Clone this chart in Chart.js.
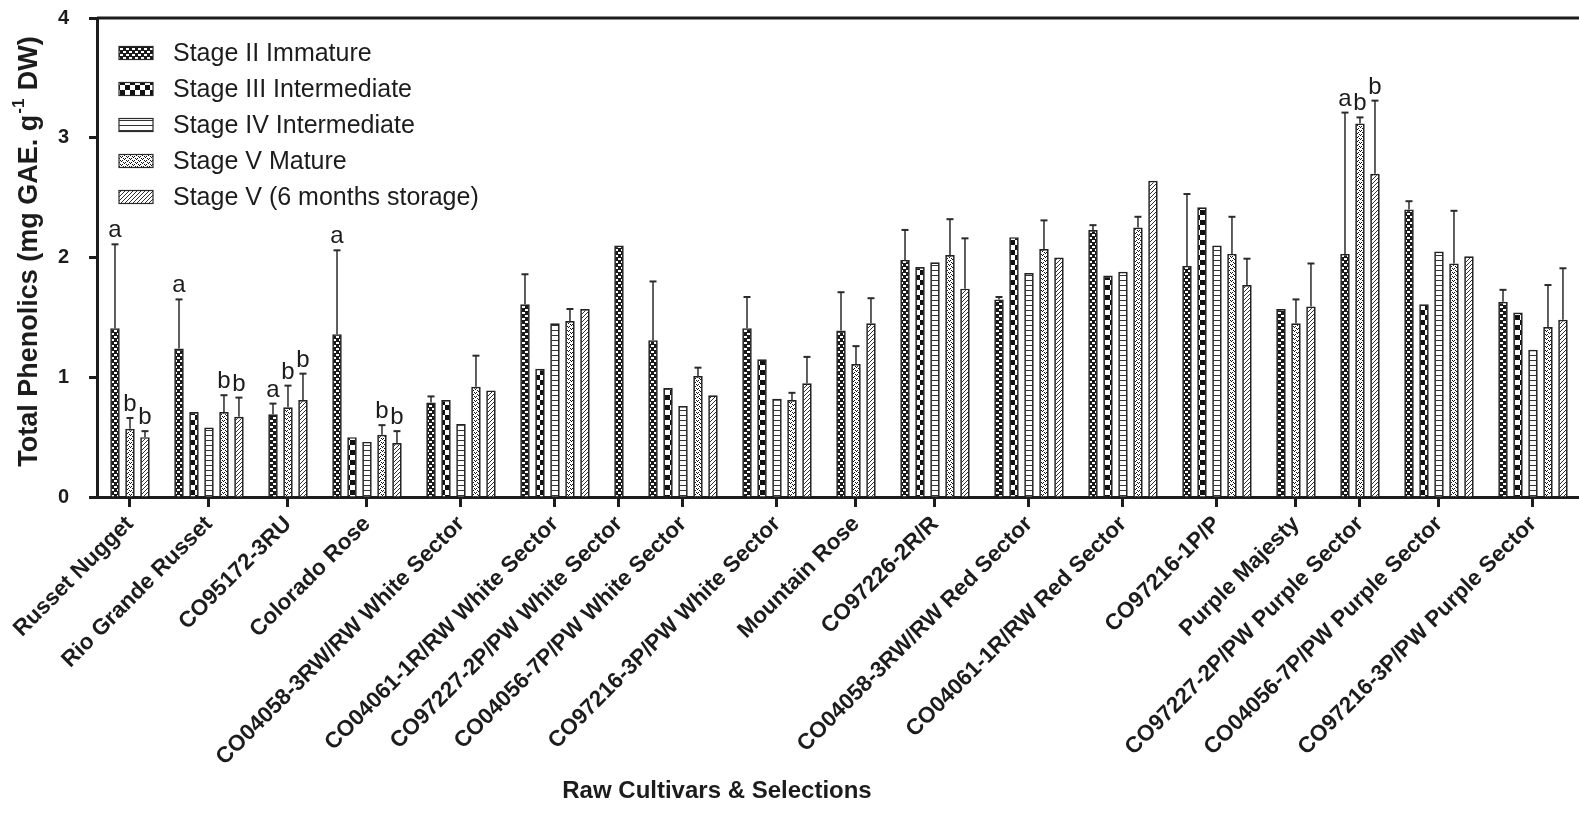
<!DOCTYPE html>
<html>
<head>
<meta charset="utf-8">
<script src="https://cdn.jsdelivr.net/npm/chart.js@4.4.1/dist/chart.umd.min.js"></script>
<style>
  html, body { margin: 0; padding: 0; background: #fff; }
  canvas { display: block; }
</style>
</head>
<body>
<canvas id="chart" width="1579" height="830"></canvas>
<script>
// ---- data -------------------------------------------------------------
const categories = [
  'Russet Nugget', 'Rio Grande Russet', 'CO95172-3RU', 'Colorado Rose',
  'CO04058-3RW/RW White Sector', 'CO04061-1R/RW White Sector',
  'CO97227-2P/PW White Sector', 'CO04056-7P/PW White Sector',
  'CO97216-3P/PW White Sector', 'Mountain Rose', 'CO97226-2R/R',
  'CO04058-3RW/RW Red Sector', 'CO04061-1R/RW Red Sector', 'CO97216-1P/P',
  'Purple Majesty', 'CO97227-2P/PW Purple Sector',
  'CO04056-7P/PW Purple Sector', 'CO97216-3P/PW Purple Sector'
];

const seriesNames = [
  'Stage II Immature', 'Stage III Intermediate', 'Stage IV Intermediate',
  'Stage V Mature', 'Stage V (6 months storage)'
];

// mean total phenolics, mg GAE/g DW (null = not measured)
const stageII  = [1.41, 1.24, 0.69, 1.36, 0.79, 1.61, 2.10, 1.31, 1.41, 1.39, 1.98, 1.65, 2.23, 1.93, 1.57, 2.03, 2.40, 1.63];
const stageIII = [null, 0.71, null, 0.50, 0.81, 1.07, null, 0.91, 1.15, null, 1.92, 2.17, 1.85, 2.42, null, null, 1.61, 1.54];
const stageIV  = [null, 0.58, null, 0.46, 0.61, 1.45, null, 0.76, 0.82, null, 1.96, 1.87, 1.88, 2.10, null, null, 2.05, 1.23];
const stageV   = [0.57, 0.71, 0.75, 0.52, 0.92, 1.47, null, 1.01, 0.81, 1.11, 2.02, 2.07, 2.25, 2.03, 1.45, 3.12, 1.95, 1.42];
const stageV6  = [0.50, 0.67, 0.81, 0.45, 0.89, 1.57, null, 0.85, 0.95, 1.45, 1.74, 2.00, 2.64, 1.77, 1.59, 2.70, 2.01, 1.48];

// upper error (SD) for each bar (null = no error bar)
const errII  = [0.70, 0.41, 0.09, 0.70, 0.05, 0.25, null, 0.49, 0.26, 0.32, 0.25, 0.02, 0.04, 0.60, null, 1.18, 0.07, 0.10];
const errIII = [null, null, null, null, null, null, null, null, null, null, null, null, null, null, null, null, null, null];
const errIV  = [null, null, null, null, null, null, null, null, null, null, null, null, null, null, null, null, null, null];
const errV   = [0.09, 0.14, 0.18, 0.08, 0.26, 0.10, null, 0.07, 0.06, 0.15, 0.30, 0.24, 0.09, 0.31, 0.20, 0.05, 0.44, 0.35];
const errV6  = [0.05, 0.16, 0.22, 0.10, null, null, null, null, 0.22, 0.21, 0.42, null, null, 0.22, 0.36, 0.61, null, 0.43];

// significance letters
const letII  = ['a', 'a', 'a', 'a', '', '', '', '', '', '', '', '', '', '', '', 'a', '', ''];
const letIII = ['', '', '', '', '', '', '', '', '', '', '', '', '', '', '', '', '', ''];
const letIV  = ['', '', '', '', '', '', '', '', '', '', '', '', '', '', '', '', '', ''];
const letV   = ['b', 'b', 'b', 'b', '', '', '', '', '', '', '', '', '', '', '', 'b', '', ''];
const letV6  = ['b', 'b', 'b', 'b', '', '', '', '', '', '', '', '', '', '', '', 'b', '', ''];

const yTicks = [0, 1, 2, 3, 4];

// ---- styling helpers --------------------------------------------------
const FONT = "'Liberation Sans', Arial, Helvetica, sans-serif";
const INK = '#1c1c1c';
const GROUP_GAP = 1.27;   // extra space between cultivar groups, in bar slots

const mainCanvas = document.getElementById('chart');
const mainCtx = mainCanvas.getContext('2d');

function makePattern(w, h, paint) {
  const c = document.createElement('canvas');
  c.width = w; c.height = h;
  const g = c.getContext('2d');
  g.fillStyle = '#fff';
  g.fillRect(0, 0, w, h);
  paint(g);
  return mainCtx.createPattern(c, 'repeat');
}

const patterns = [
  // fine checker (dark)
  makePattern(6, 6, g => {
    g.fillStyle = '#1a1a1a'; g.fillRect(0, 0, 6, 6);
    g.fillStyle = '#fff'; g.fillRect(0, 0, 3, 2); g.fillRect(3, 3, 3, 2);
  }),
  // coarse checker
  makePattern(10, 10, g => {
    g.fillStyle = '#111'; g.fillRect(0, 0, 5, 5); g.fillRect(5, 5, 5, 5);
  }),
  // horizontal lines
  makePattern(4, 5, g => {
    g.fillStyle = '#333'; g.fillRect(0, 0, 4, 1);
  }),
  // sparse "v" dots
  makePattern(6, 4, g => {
    g.fillStyle = '#111';
    g.fillRect(0, 0, 1, 1); g.fillRect(1, 1, 1, 1); g.fillRect(2, 0, 1, 1);
    g.fillRect(3, 2, 1, 1); g.fillRect(4, 3, 1, 1); g.fillRect(5, 2, 1, 1);
  }),
  // diagonal hatch
  makePattern(4, 4, g => {
    g.fillStyle = '#333';
    for (let i = 0; i < 4; i++) g.fillRect(i, 3 - i, 1, 1);
  })
];

// ---- bar layout: bars of each cultivar sit side by side, empty stages are skipped
const seriesValues = [stageII, stageIII, stageIV, stageV, stageV6];
const seriesErrors = [errII, errIII, errIV, errV, errV6];
const seriesLetters = [letII, letIII, letIV, letV, letV6];

const seriesPoints = seriesValues.map(() => []);
const groupCenters = [];
let slot = 0;
categories.forEach((cat, i) => {
  const start = slot;
  seriesValues.forEach((vals, k) => {
    if (vals[i] !== null) {
      seriesPoints[k].push({ x: slot, y: vals[i], err: seriesErrors[k][i], letter: seriesLetters[k][i] });
      slot += 1;
    }
  });
  groupCenters.push((start + slot - 1) / 2);
  slot += GROUP_GAP;
});
const lastSlot = slot - GROUP_GAP - 1;

const datasets = seriesNames.map((name, k) => ({
  label: name,
  data: seriesPoints[k],
  backgroundColor: patterns[k],
  borderColor: '#222',
  borderWidth: 1.7,
  grouped: false,
  maxBarThickness: 9.5
}));

// ---- decorations: error bars, letters, frame, legend, axis titles -------
const decorations = {
  id: 'decorations',
  afterDatasetsDraw(chart) {
    const ctx = chart.ctx;
    const y = chart.scales.y;
    const area = chart.chartArea;
    ctx.save();

    // error bars (upper only) and letters
    chart.data.datasets.forEach((ds, k) => {
      const meta = chart.getDatasetMeta(k);
      ds.data.forEach((pt, j) => {
        const bar = meta.data[j];
        let topPx = y.getPixelForValue(pt.y);
        if (pt.err) {
          const ePx = y.getPixelForValue(pt.y + pt.err);
          ctx.strokeStyle = '#2a2a2a';
          ctx.lineWidth = 1.5;
          ctx.beginPath();
          ctx.moveTo(bar.x, topPx);
          ctx.lineTo(bar.x, ePx);
          ctx.stroke();
          ctx.lineWidth = 2;
          ctx.beginPath();
          ctx.moveTo(bar.x - 3.5, ePx);
          ctx.lineTo(bar.x + 3.5, ePx);
          ctx.stroke();
          topPx = ePx;
        }
        if (pt.letter) {
          ctx.fillStyle = INK;
          ctx.font = `24px ${FONT}`;
          ctx.textAlign = 'center';
          ctx.textBaseline = 'alphabetic';
          ctx.fillText(pt.letter, bar.x, topPx - 7);
        }
      });
    });

    // top frame line
    ctx.strokeStyle = INK;
    ctx.lineWidth = 3;
    ctx.beginPath();
    ctx.moveTo(area.left, area.top);
    ctx.lineTo(chart.width, area.top);
    ctx.stroke();

    // legend inside the plot
    const lx = area.left + 22, ly = area.top + 35, rowH = 36;
    chart.data.datasets.forEach((ds, k) => {
      const cy = ly + k * rowH;
      ctx.fillStyle = ds.backgroundColor;
      ctx.fillRect(lx, cy - 6.5, 34, 13);
      ctx.strokeStyle = '#2a2a2a';
      ctx.lineWidth = 1.2;
      ctx.strokeRect(lx, cy - 6.5, 34, 13);
      ctx.fillStyle = INK;
      ctx.font = `25px ${FONT}`;
      ctx.textAlign = 'left';
      ctx.textBaseline = 'middle';
      ctx.fillText(ds.label, lx + 54, cy + 1);
    });

    // y-axis title with superscript
    const main1 = 'Total Phenolics (mg GAE. g', sup = '-1', main2 = ' DW)';
    const fMain = `bold 27px ${FONT}`, fSup = `bold 17px ${FONT}`;
    ctx.font = fMain; const w1 = ctx.measureText(main1).width, w3 = ctx.measureText(main2).width;
    ctx.font = fSup; const w2 = ctx.measureText(sup).width + 2;
    const total = w1 + w2 + w3;
    ctx.translate(30, (area.top + area.bottom) / 2 - 6);
    ctx.rotate(-Math.PI / 2);
    ctx.fillStyle = INK;
    ctx.textAlign = 'left';
    ctx.textBaseline = 'middle';
    let tx = -total / 2;
    ctx.font = fMain; ctx.fillText(main1, tx, 0); tx += w1 + 1;
    ctx.font = fSup; ctx.fillText(sup, tx, -11); tx += w2 - 1;
    ctx.font = fMain; ctx.fillText(main2, tx, 0);
    ctx.setTransform(1, 0, 0, 1, 0, 0);

    // x-axis title
    ctx.font = `bold 24px ${FONT}`;
    ctx.textAlign = 'center';
    ctx.textBaseline = 'middle';
    ctx.fillText('Raw Cultivars & Selections', area.left + 620, 791);

    ctx.restore();
  }
};

new Chart(mainCanvas, {
  type: 'bar',
  data: { datasets },
  options: {
    responsive: false,
    animation: false,
    devicePixelRatio: 1,
    layout: { padding: { top: 18, left: 0, right: 0, bottom: 0 } },
    plugins: { legend: { display: false }, tooltip: { enabled: false } },
    scales: {
      x: {
        type: 'linear',
        min: -1.2,
        max: lastSlot + 1.07,
        offset: false,
        grid: { display: true, offset: false, drawOnChartArea: false, drawTicks: true, tickLength: 10, tickWidth: 3, tickColor: INK },
        border: { display: true, width: 3, color: INK },
        ticks: {
          autoSkip: false,
          minRotation: 45,
          maxRotation: 45,
          padding: 4,
          color: INK,
          font: { family: FONT, size: 22.5, weight: 'bold' },
          callback: (value, index) => categories[index]
        },
        afterBuildTicks: scale => { scale.ticks = groupCenters.map(v => ({ value: v })); },
        afterFit: scale => { scale.height = 333; scale.paddingLeft = 0; scale.paddingRight = 0; }
      },
      y: {
        type: 'linear',
        min: 0,
        max: 4,
        grid: { display: true, drawOnChartArea: false, drawTicks: true, tickLength: 8, tickWidth: 3, tickColor: INK },
        border: { display: true, width: 3, color: INK },
        ticks: {
          padding: 20,
          color: INK,
          font: { family: FONT, size: 20, weight: 'bold' },
          callback: value => String(value)
        },
        afterBuildTicks: scale => { scale.ticks = yTicks.map(v => ({ value: v })); },
        afterFit: scale => { scale.width = 97; scale.paddingTop = 0; scale.paddingBottom = 0; }
      }
    }
  },
  plugins: [decorations]
});
</script>
</body>
</html>
